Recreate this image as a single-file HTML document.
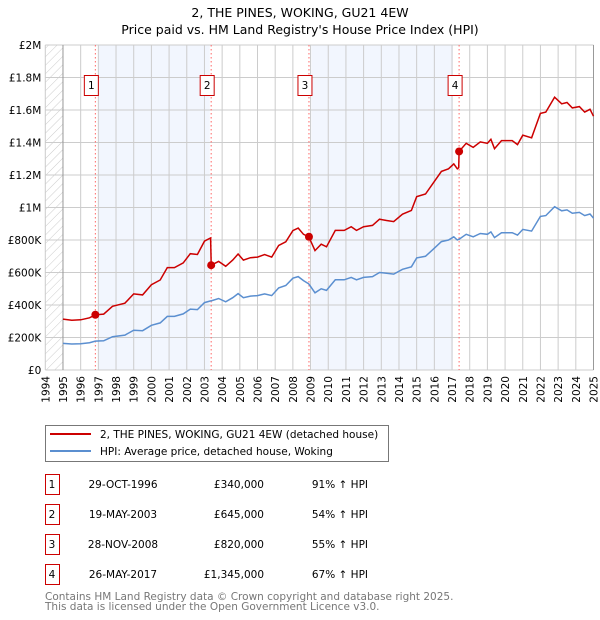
<!DOCTYPE html>
<html><head><meta charset="utf-8"><style>
body{margin:0;background:#fff;}
svg{display:block;font-family:"DejaVu Sans","Liberation Sans",sans-serif;}
</style></head><body>
<svg id="chart" width="600" height="620" viewBox="0 0 600 620">
<defs>
<pattern id="hatch" width="6" height="6" patternUnits="userSpaceOnUse" patternTransform="rotate(45)">
<line x1="0" y1="0" x2="0" y2="6" stroke="#ccc" stroke-width="1"/>
</pattern>
</defs>
<text x="300" y="17" text-anchor="middle" font-size="12.5">2, THE PINES, WOKING, GU21 4EW</text>
<text x="300" y="34" text-anchor="middle" font-size="12.5">Price paid vs. HM Land Registry's House Price Index (HPI)</text>
<g id="plot"></g>
<g>
<rect x="45.5" y="425.5" width="343" height="36" fill="#fff" stroke="#777"/>
<line x1="50" y1="434" x2="91" y2="434" stroke="#cc0000" stroke-width="2"/>
<text x="100" y="438" font-size="10.5">2, THE PINES, WOKING, GU21 4EW (detached house)</text>
<line x1="50" y1="451" x2="91" y2="451" stroke="#5b8fd0" stroke-width="2"/>
<text x="100" y="455" font-size="10.5">HPI: Average price, detached house, Woking</text>
</g>
<g id="table" font-size="10.5"></g>
<text x="45" y="600" font-size="10.5" fill="#777">Contains HM Land Registry data © Crown copyright and database right 2025.</text>
<text x="45" y="610" font-size="10.5" fill="#777">This data is licensed under the Open Government Licence v3.0.</text>
</svg>
<script>
const dates=[1995.0,1995.5,1996.0,1996.5,1996.83,1997.3,1997.8,1998.5,1999.0,1999.5,2000.0,2000.5,2000.9,2001.3,2001.8,2002.2,2002.6,2003.0,2003.35,2003.38,2003.8,2004.2,2004.6,2004.9,2005.2,2005.6,2006.0,2006.4,2006.8,2007.2,2007.6,2008.0,2008.3,2008.6,2008.9,2009.25,2009.6,2009.9,2010.4,2010.9,2011.3,2011.6,2012.0,2012.5,2012.9,2013.3,2013.7,2014.2,2014.7,2015.0,2015.5,2015.9,2016.4,2016.8,2017.1,2017.3,2017.38,2017.4,2017.8,2018.2,2018.6,2019.0,2019.2,2019.4,2019.8,2020.4,2020.7,2021.0,2021.5,2022.0,2022.3,2022.8,2023.2,2023.5,2023.8,2024.2,2024.5,2024.8,2025.0];
const hpiValues=[164,160,162,168,178,180,205,215,245,242,275,290,330,330,345,375,372,415,425,425,440,420,445,470,445,455,458,468,458,505,520,565,575,550,530,475,500,490,555,555,570,555,570,575,600,595,590,620,635,690,700,740,790,800,820,800,805,805,835,820,840,835,850,815,845,845,830,865,855,945,950,1005,980,985,965,970,950,960,935];
const priceValues=[313,306,309,321,340,344,392,411,468,462,525,554,630,630,659,716,711,793,812,645,668,638,676,714,676,691,695,710,695,767,789,858,873,835,820,735,774,758,859,859,882,859,882,890,928,920,913,959,982,1067,1083,1145,1222,1238,1268,1238,1245,1345,1395,1370,1404,1395,1420,1362,1412,1412,1387,1445,1429,1579,1587,1679,1638,1646,1613,1621,1587,1604,1562];
const saleDates=[1996.83,2003.38,2008.91,2017.4];
const salePrices=[340,645,820,1345];
const saleLabels=["1","2","3","4"];
const saleDateText=["29-OCT-1996","19-MAY-2003","28-NOV-2008","26-MAY-2017"];
const salePriceText=["£340,000","£645,000","£820,000","£1,345,000"];
const saleHpiText=["91% ↑ HPI","54% ↑ HPI","55% ↑ HPI","67% ↑ HPI"];
const yTicks=[0,200,400,600,800,1000,1200,1400,1600,1800,2000];
const yTickLabels=["£0","£200K","£400K","£600K","£800K","£1M","£1.2M","£1.4M","£1.6M","£1.8M","£2M"];
const shadeBands=[[1997.0,2003.3],[2009.05,2017.05]];

const X0=45.3,X1=593.5,Y0=370,Y1=45,T0=1994,T1=2025,V1=2000;
const xs=t=>X0+(t-T0)/(T1-T0)*(X1-X0);
const ys=v=>Y0-v/V1*(Y0-Y1);
const NS="http://www.w3.org/2000/svg";
const plot=document.getElementById('plot');
function mk(tag,attrs,parent){const e=document.createElementNS(NS,tag);for(const k in attrs)e.setAttribute(k,attrs[k]);(parent||plot).appendChild(e);return e;}

let r=mk('rect',{x:X0,y:Y1,width:X1-X0,height:Y0-Y1,fill:'#fff'});


shadeBands.forEach(b=>{const e=mk('rect',{x:xs(b[0]),y:Y1,width:xs(b[1])-xs(b[0]),height:Y0-Y1,fill:'#f2f6fe'});

});
let h=mk('rect',{x:X0,y:Y1,width:xs(1995)-X0,height:Y0-Y1,fill:'url(#hatch)'});


for(let yr=1994;yr<=2025;yr++){const x=xs(yr);
const g=mk('line',{x1:x,y1:Y1,x2:x,y2:Y0,stroke:'#ccc','stroke-width':1});


const t=mk('text',{x:0,y:0,'font-size':10.5,'text-anchor':'end',transform:`translate(${x+4},${Y0+6}) rotate(-90)`});t.textContent=yr;

}
yTicks.forEach((v,i)=>{const y=ys(v);
const g=mk('line',{x1:X0,y1:y,x2:X1,y2:y,stroke:'#ccc','stroke-width':1});


const t=mk('text',{x:X0-4,y:y+4,'font-size':10.5,'text-anchor':'end'});t.textContent=yTickLabels[i];

});
let ax=mk('line',{x1:xs(1995),y1:Y1,x2:xs(1995),y2:Y0,stroke:'#999'});


let ax2=mk('line',{x1:X1,y1:Y1,x2:X1,y2:Y0,stroke:'#999'});


saleDates.forEach((d,i)=>{const x=xs(d);
const l=mk('line',{x1:x,y1:Y1,x2:x,y2:Y0,stroke:'#ff6666','stroke-width':1,'stroke-dasharray':'1.5,2.5'});


const b=mk('rect',{x:x-11,y:75.5,width:14,height:20,fill:'#fff',stroke:'#cc0000'});


const t=mk('text',{x:x-4,y:89,'font-size':10.5,'text-anchor':'middle'});t.textContent=saleLabels[i];

});
const path=arr=>arr.map((v,i)=>(i?'L':'M')+xs(dates[i]).toFixed(1)+','+ys(v).toFixed(1)).join('');
let hp=mk('path',{d:path(hpiValues),fill:'none',stroke:'#5b8fd0','stroke-width':1.5});


let pp=mk('path',{d:path(priceValues),fill:'none',stroke:'#cc0000','stroke-width':1.5});


saleDates.forEach((d,i)=>{const c=mk('circle',{cx:xs(d),cy:ys(salePrices[i]),r:4,fill:'#cc0000'});

});

const tbl=document.getElementById('table');
saleLabels.forEach((l,i)=>{const y=484+i*30;
const b=mk('rect',{x:45.5,y:y-9.5,width:14,height:20,fill:'#fff',stroke:'#cc0000'},tbl);


const cells=[[52,'middle',l],[123,'middle',saleDateText[i]],[264,'end',salePriceText[i]],[368,'end',saleHpiText[i]]];
cells.forEach(c=>{const t=mk('text',{x:c[0],y:y+4,'text-anchor':c[1]},tbl);t.textContent=c[2];

});});
</script>
</body></html>
